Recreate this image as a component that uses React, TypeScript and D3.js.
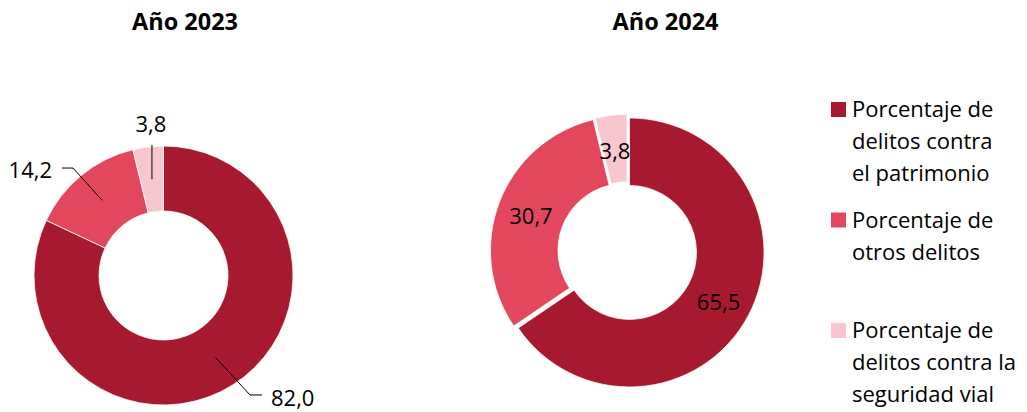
import React from "react";
import * as d3 from "d3";

const categories = [
  "Porcentaje de delitos contra el patrimonio",
  "Porcentaje de otros delitos",
  "Porcentaje de delitos contra la seguridad vial",
];
const legendLines = [
  ["Porcentaje de", "delitos contra", "el patrimonio"],
  ["Porcentaje de", "otros delitos"],
  ["Porcentaje de", "delitos contra la", "seguridad vial"],
];
const years = ["Año 2023", "Año 2024"];
const values2023 = [82.0, 14.2, 3.8];
const values2024 = [65.5, 30.7, 3.8];
const colors = ["#A6192E", "#E3475E", "#F7C6CF"];

const FONT = "'Open Sans', 'Noto Sans', sans-serif";
const FS = 22;
const fmt = (v: number) => v.toFixed(1).replace(".", ",");

const deg = (a: number) => (a * Math.PI) / 180;
const polar = (cx: number, cy: number, r: number, a: number) => [cx + r * Math.sin(a), cy - r * Math.cos(a)];

// left donut: outside labels with leaders (elbow radius, elbow angle in degrees, tail direction)
const leftElbows = [
  { r: 147.5, a: 144.1, tail: 12, side: 1 },
  { r: 140.5, a: 319.9, tail: -11, side: -1 },
  { r: 131, a: 355, tail: 0, side: 0 },
];

export default function App() {
  const pie = d3.pie<number>().sort(null).value((d) => d);

  // Left donut
  const L = { cx: 163.5, cy: 275.5, R: 129.5, r: 64.5 };
  const arcsL = pie(values2023);
  const arcL = d3.arc<d3.PieArcDatum<number>>().innerRadius(L.r).outerRadius(L.R);

  // Right donut
  const Rt = { cx: 627.3, cy: 251.3, R: 134.5, r: 67, explode: 2.5 };
  const arcsR = pie(values2024);
  const arcR = d3.arc<d3.PieArcDatum<number>>().innerRadius(Rt.r).outerRadius(Rt.R);

  return (
    <svg width={1027} height={412} style={{ position: "absolute", left: 0, top: 0, background: "#fff" }} fontFamily={FONT}>
      {/* titles */}
      <text x={185} y={29.5} textAnchor="middle" fontWeight="bold" fontSize={23.5} fill="#000">{years[0]}</text>
      <text x={665.5} y={29.5} textAnchor="middle" fontWeight="bold" fontSize={23.5} fill="#000">{years[1]}</text>

      {/* left donut */}
      <g transform={`translate(${L.cx},${L.cy})`}>
        {arcsL.map((a, i) => (
          <path key={i} d={arcL(a) || ""} fill={colors[i]} stroke="#fff" strokeWidth={0.75} />
        ))}
      </g>
      {arcsL.map((a, i) => {
        const mid = (a.startAngle + a.endAngle) / 2;
        const [sx, sy] = polar(L.cx, L.cy, (L.R + L.r) / 2, mid);
        const e = leftElbows[i];
        let [ex, ey] = polar(L.cx, L.cy, e.r, deg(e.a));
        if (e.side === 0) ex = sx;
        const tx = ex + e.tail;
        let label;
        if (e.side === 1) {
          label = <text x={tx + 9} y={ey + 11} fontSize={FS} fill="#000">{fmt(values2023[i])}</text>;
        } else if (e.side === -1) {
          label = <text x={tx - 10} y={ey + 10} textAnchor="end" fontSize={FS} fill="#000">{fmt(values2023[i])}</text>;
        } else {
          label = <text x={ex - 1} y={ey - 13} textAnchor="middle" fontSize={FS} fill="#000">{fmt(values2023[i])}</text>;
        }
        return (
          <g key={i}>
            <polyline points={`${sx},${sy} ${ex},${ey} ${tx},${ey}`} fill="none" stroke="#000" strokeWidth={1} />
            {label}
          </g>
        );
      })}

      {/* right donut (exploded) */}
      <g transform={`translate(${Rt.cx},${Rt.cy})`}>
        {arcsR.map((a, i) => {
          const mid = (a.startAngle + a.endAngle) / 2;
          const ox = Rt.explode * Math.sin(mid);
          const oy = -Rt.explode * Math.cos(mid);
          const [lx, ly] = arcR.centroid(a);
          return (
            <g key={i} transform={`translate(${ox},${oy})`}>
              <path d={arcR(a) || ""} fill={colors[i]} stroke="#fff" strokeWidth={0.75} />
              <text x={lx} y={ly + 10} textAnchor="middle" fontSize={FS} fill="#000">{fmt(values2024[i])}</text>
            </g>
          );
        })}
      </g>

      {/* legend */}
      {categories.map((c, i) => {
        const base = 117 + i * 110.5;
        return (
          <g key={c}>
            <rect x={831} y={base - 15} width={15} height={15} fill={colors[i]} />
            <text x={852} y={base} fontSize={FS} fill="#000">
              {legendLines[i].map((ln, j) => (
                <tspan key={j} x={852} y={base + j * 32}>{ln}</tspan>
              ))}
            </text>
          </g>
        );
      })}
    </svg>
  );
}
